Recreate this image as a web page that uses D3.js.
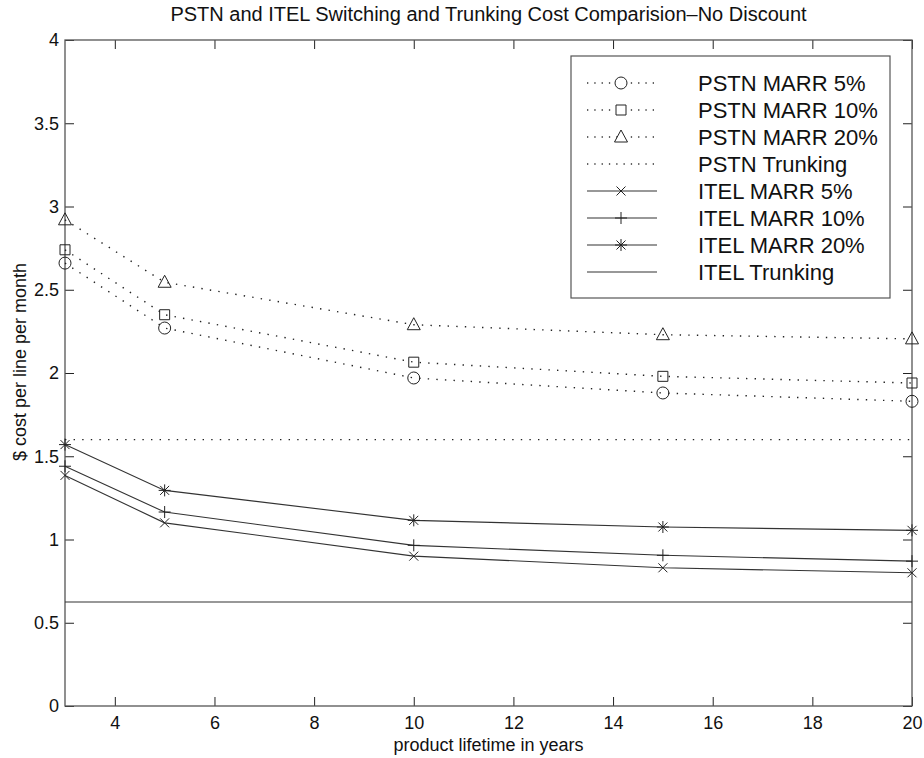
<!DOCTYPE html>
<html>
<head>
<meta charset="utf-8">
<script src="https://cdn.jsdelivr.net/npm/d3@7"></script>
<style>
  body { margin: 0; background: #fff; }
  text { font-family: "Liberation Sans", Arial, sans-serif; fill: #111; }
</style>
</head>
<body>
<script>
var years = [3, 5, 10, 15, 20];
var trunkYears = [3, 20];

var pstn5  = [2.66, 2.27, 1.97, 1.88, 1.83];
var pstn10 = [2.74, 2.35, 2.065, 1.98, 1.94];
var pstn20 = [2.92, 2.545, 2.29, 2.23, 2.205];
var pstnTrunk = [1.60, 1.60];
var itel5  = [1.385, 1.10, 0.90, 0.83, 0.80];
var itel10 = [1.44, 1.165, 0.965, 0.905, 0.87];
var itel20 = [1.57, 1.295, 1.115, 1.075, 1.055];
var itelTrunk = [0.625, 0.625];

var xTicks = [4, 6, 8, 10, 12, 14, 16, 18, 20];
var yTicks = [0, 0.5, 1, 1.5, 2, 2.5, 3, 3.5, 4];

var titleText = "PSTN and ITEL Switching and Trunking Cost Comparision\u2013No Discount";
var xLabel = "product lifetime in years";
var yLabel = "$ cost per line per month";

var series = [
  { name: "PSTN MARR 5%",  xs: years, ys: pstn5,  dotted: true,  marker: "circle" },
  { name: "PSTN MARR 10%", xs: years, ys: pstn10, dotted: true,  marker: "square" },
  { name: "PSTN MARR 20%", xs: years, ys: pstn20, dotted: true,  marker: "triangle" },
  { name: "PSTN Trunking", xs: trunkYears, ys: pstnTrunk, dotted: true, marker: null },
  { name: "ITEL MARR 5%",  xs: years, ys: itel5,  dotted: false, marker: "x" },
  { name: "ITEL MARR 10%", xs: years, ys: itel10, dotted: false, marker: "plus" },
  { name: "ITEL MARR 20%", xs: years, ys: itel20, dotted: false, marker: "star" },
  { name: "ITEL Trunking", xs: trunkYears, ys: itelTrunk, dotted: false, marker: null }
];

var w = 924, h = 758;
var mLeft = 65, mRight = 912, mTop = 40, mBottom = 706;

var svg = d3.select("body").append("svg")
    .attr("width", w)
    .attr("height", h);

var x = d3.scaleLinear().domain([3, 20]).range([mLeft, mRight]);
var y = d3.scaleLinear().domain([0, 4]).range([mBottom, mTop]);

// marker shapes as path strings centred on 0,0
function markerPath(type) {
  if (type == "circle") return d3.arc()({ innerRadius: 0, outerRadius: 6, startAngle: 0, endAngle: 2 * Math.PI });
  if (type == "square") return "M-5,-5H5V5H-5Z";
  if (type == "triangle") return "M0,-7L6.5,5H-6.5Z";
  if (type == "x") return "M-4.5,-4.5L4.5,4.5M-4.5,4.5L4.5,-4.5";
  if (type == "plus") return "M-6,0H6M0,-6V6";
  if (type == "star") return "M-6,0H6M0,-6V6M-4.5,-4.5L4.5,4.5M-4.5,4.5L4.5,-4.5";
  return "";
}

var axisColor = "#555";
var fmt = function(d) { return String(d); };

// axes, ticks pointing inward
svg.append("g")
    .attr("transform", "translate(0," + mBottom + ")")
    .call(d3.axisBottom(x).tickValues(xTicks).tickSize(-9).tickPadding(10).tickFormat(fmt));
svg.append("g")
    .attr("transform", "translate(0," + mTop + ")")
    .call(d3.axisTop(x).tickValues(xTicks).tickSize(-9).tickFormat(""));
svg.append("g")
    .attr("transform", "translate(" + mLeft + ",0)")
    .call(d3.axisLeft(y).tickValues(yTicks).tickSize(-9).tickPadding(6).tickFormat(fmt));
svg.append("g")
    .attr("transform", "translate(" + mRight + ",0)")
    .call(d3.axisRight(y).tickValues(yTicks).tickSize(-9).tickFormat(""));

svg.selectAll(".domain").remove();
svg.selectAll(".tick line").attr("stroke", "#222");
svg.selectAll(".tick text")
    .style("font-size", "18px")
    .style("font-family", "'Liberation Sans', Arial, sans-serif")
    .attr("fill", "#111");

svg.append("rect")
    .attr("x", mLeft).attr("y", mTop)
    .attr("width", mRight - mLeft).attr("height", mBottom - mTop)
    .attr("fill", "none")
    .attr("stroke", axisColor)
    .attr("stroke-width", 1.3);

var line = d3.line()
    .x(function(d) { return x(d[0]); })
    .y(function(d) { return y(d[1]); });

var plot = svg.append("g");

series.forEach(function(s) {
  var pts = s.xs.map(function(v, i) { return [v, s.ys[i]]; });
  plot.append("path")
      .datum(pts)
      .attr("d", line)
      .attr("fill", "none")
      .attr("stroke", s.dotted ? "#222" : "#333")
      .attr("stroke-width", s.dotted ? 1.4 : 1.1)
      .attr("stroke-dasharray", s.dotted ? "1.4,7.2" : null);
  if (s.marker) {
    plot.selectAll(null)
        .data(pts)
      .enter().append("path")
        .attr("transform", function(d) { return "translate(" + x(d[0]) + "," + y(d[1]) + ")"; })
        .attr("d", markerPath(s.marker))
        .attr("fill", "none")
        .attr("stroke", "#222")
        .attr("stroke-width", 1);
  }
});

// legend
var lg = svg.append("g");
lg.append("rect")
    .attr("x", 571).attr("y", 56)
    .attr("width", 319).attr("height", 242)
    .attr("fill", "#fff")
    .attr("stroke", axisColor)
    .attr("stroke-width", 1.2);

series.forEach(function(s, i) {
  var ly = 83 + i * 27;
  lg.append("line")
      .attr("x1", 587).attr("x2", 657)
      .attr("y1", ly).attr("y2", ly)
      .attr("stroke", "#333")
      .attr("stroke-width", s.dotted ? 1.3 : 1.1)
      .attr("stroke-dasharray", s.dotted ? "1.3,6" : null);
  if (s.marker) {
    lg.append("path")
        .attr("transform", "translate(621," + ly + ")")
        .attr("d", markerPath(s.marker))
        .attr("fill", s.dotted ? "#fff" : "none")
        .attr("stroke", "#222")
        .attr("stroke-width", 1);
  }
  lg.append("text")
      .attr("x", 698).attr("y", ly)
      .attr("dy", "0.36em")
      .style("font-size", "22px")
      .text(s.name);
});

svg.append("text")
    .attr("x", (mLeft + mRight) / 2).attr("y", 21)
    .attr("text-anchor", "middle")
    .style("font-size", "20px")
    .text(titleText);

svg.append("text")
    .attr("x", (mLeft + mRight) / 2).attr("y", 751)
    .attr("text-anchor", "middle")
    .style("font-size", "18px")
    .text(xLabel);

svg.append("text")
    .attr("transform", "translate(26," + 362 + ") rotate(-90)")
    .attr("text-anchor", "middle")
    .style("font-size", "18px")
    .text(yLabel);
</script>
</body>
</html>
